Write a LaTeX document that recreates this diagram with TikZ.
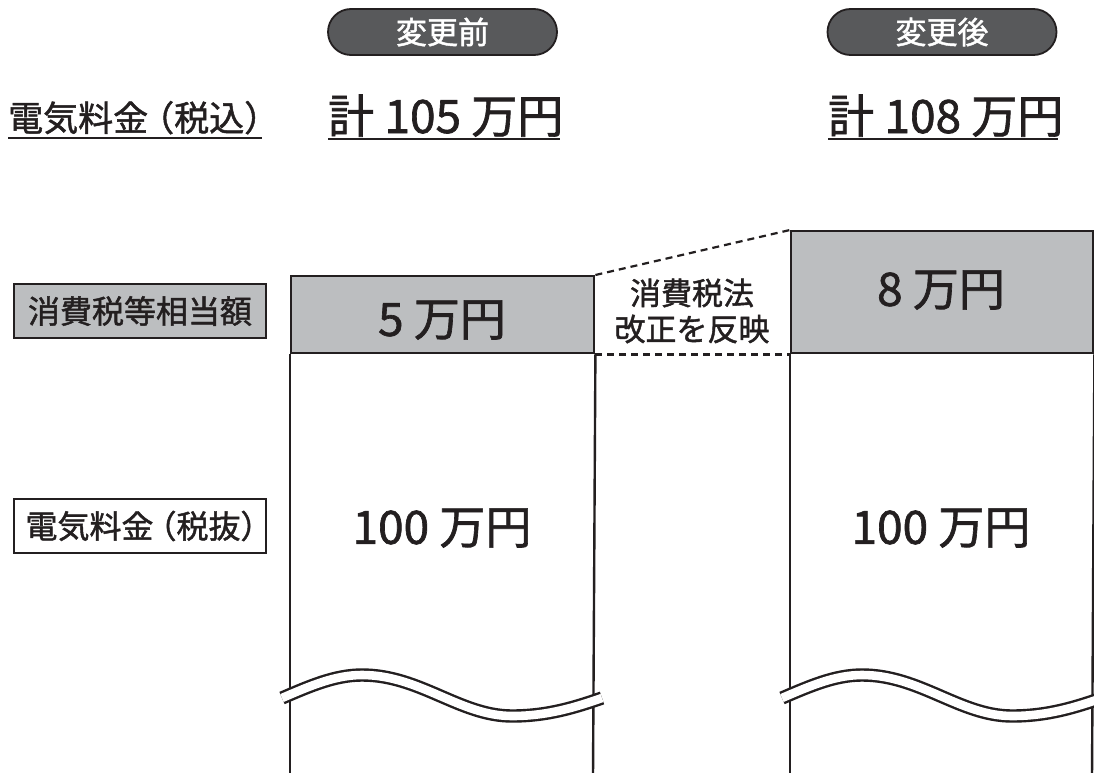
\documentclass[tikz,border=0pt]{standalone}
\usepackage{fontspec}
\setmainfont{Noto Sans CJK JP}[FakeBold=1.4]
\definecolor{ink}{HTML}{231F20}
\definecolor{boxgray}{HTML}{BCBEC0}
\definecolor{pillgray}{HTML}{58595B}
\tikzset{
  pill/.style={draw=ink, line width=1.8pt, fill=pillgray, rounded corners=23pt,
    minimum width=229pt, minimum height=46pt, text=white,
    font=\fontsize{31}{31}\selectfont, inner sep=0pt},
  taxbox/.style={draw=ink, line width=2.4pt, fill=boxgray, anchor=north west, inner sep=0pt},
  lblbox/.style={draw=ink, line width=2.4pt, minimum width=252pt, minimum height=54pt,
    inner sep=0pt, text=ink, font=\fontsize{32}{32}\selectfont},
  big/.style={font=\fontsize{46}{46}\selectfont, text=ink, inner sep=0pt},
  head/.style={font=\fontsize{35}{35}\selectfont, text=ink, inner sep=0pt},
  mid/.style={font=\fontsize{31}{36}\selectfont, text=ink, inner sep=0pt, align=center},
  wave/.style={draw=ink, double=white, double distance=8.6pt, line width=2.4pt},
  dashline/.style={draw=ink, dash pattern=on 7pt off 5pt, line width=2.2pt},
  colline/.style={draw=ink, line width=2.4pt},
  uline/.style={draw=ink, line width=2pt}
}
\begin{document}
\begin{tikzpicture}[x=1pt,y=-1pt]
\useasboundingbox[fill=white] (0,0) rectangle (1094,773);

% header pills
\node[pill] (before) at (442.5,32) {変更前};
\node[pill] (after) at (942,32) {変更後};

% totals
\node[head, anchor=base west] (lbltotal) at (8,131) {電気料金\kern-9pt（税込）};
\draw[uline] (8,137.5) coordinate (u0a) -- (262,137.5) coordinate (u0b);
\node[big, anchor=base west] (totL) at (328,133) {計 105 万円};
\draw[uline] (328,139) coordinate (u1a) -- (560,139) coordinate (u1b);
\node[big, anchor=base west] (totR) at (828,133) {計 108 万円};
\draw[uline] (828,139) coordinate (u2a) -- (1058,139) coordinate (u2b);

% label boxes
\node[lblbox, fill=boxgray] (lbltax) at (140,311) {消費税等相当額};
\node[lblbox, fill=white] (lblbase) at (140,526) {\kern6pt電気料金\kern-9pt（税抜）\kern-12pt};

% tax boxes
\node[taxbox, minimum width=303pt, minimum height=77pt] (taxL) at (290,275) {};
\node[taxbox, minimum width=302pt, minimum height=122pt] (taxR) at (790,230) {};

% column bottoms
\coordinate (botLL) at (290,776);
\coordinate (botLR) at (593,776);
\coordinate (botRL) at (790,776);
\coordinate (botRR) at (1092,776);
\draw[colline] (taxL.south west) -- (botLL);
\draw[colline] (taxL.south east) -- (botLR);
\draw[colline] (taxR.south west) -- (botRL);
\draw[colline] (taxR.south east) -- (botRR);

% dashed connectors
\draw[dashline] (taxL.north east) -- (taxR.north west);
\draw[dashline] (taxL.south east) -- (taxR.south west);

% texts in columns
\node[big] (v5) at (442,320) {5 万円};
\node[big] (v8) at (941,290) {8 万円};
\node[big] (v100L) at (442,528) {100 万円};
\node[big] (v100R) at (941,528) {100 万円};
\node[mid] (note) at (692,311) {消費税法\\改正を反映};

% wavy breaks
\draw[wave] (282,698) .. controls (310,686) and (335,675) .. (362,675)
  .. controls (420,675) and (460,716) .. (512,716)
  .. controls (548,716) and (576,707) .. (602,698);
\draw[wave] (782,698) .. controls (810,686) and (835,675) .. (862,675)
  .. controls (920,675) and (960,716) .. (1012,716)
  .. controls (1048,716) and (1076,707) .. (1102,698);
\end{tikzpicture}
\end{document}
